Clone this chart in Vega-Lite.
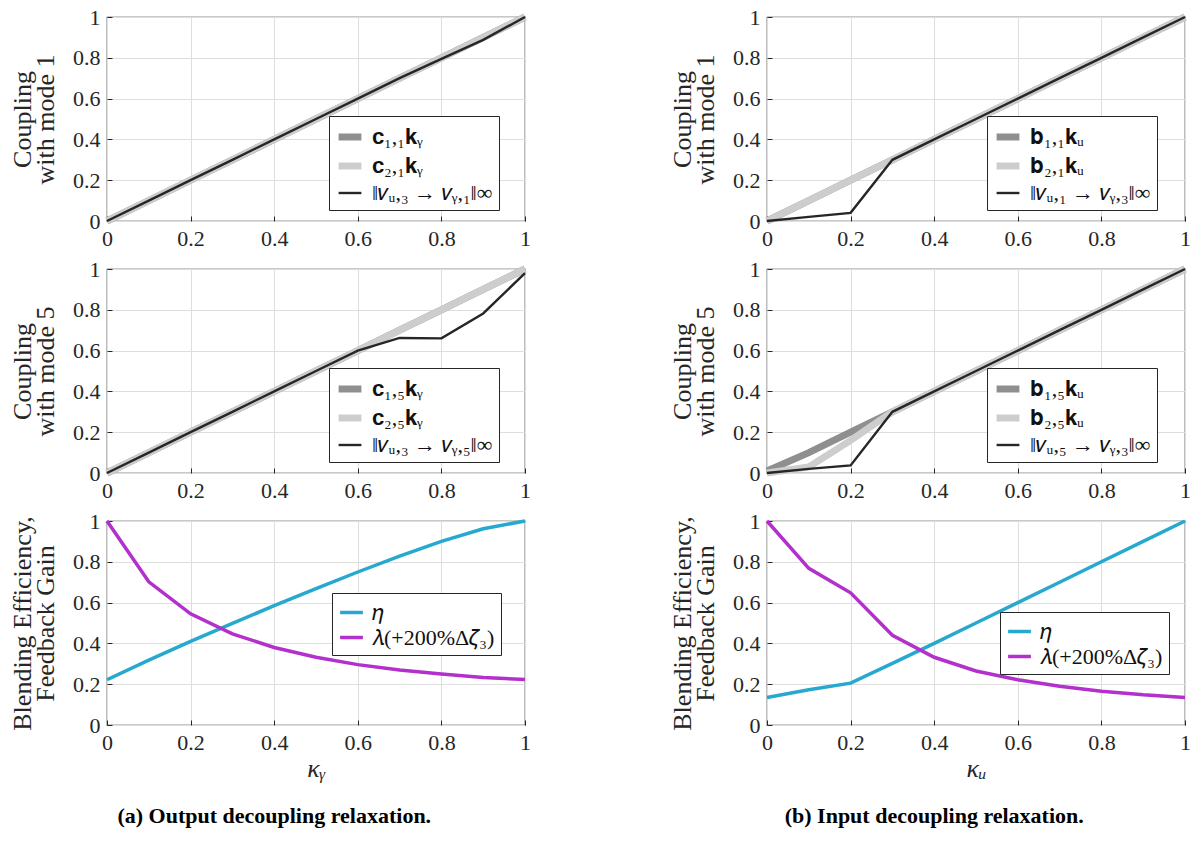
{
  "$schema": "https://vega.github.io/schema/vega-lite/v6.json",
  "padding": {"left": 8, "top": 2, "right": 5, "bottom": 5},
  "background": "white",
  "datasets": {
    "tl": [
      {"x": 0, "v": 0, "k": 1, "s": "𝐜₁,₁𝐤ᵧ"}, {"x": 0.1, "v": 0.1, "k": 1, "s": "𝐜₁,₁𝐤ᵧ"}, {"x": 0.2, "v": 0.2, "k": 1, "s": "𝐜₁,₁𝐤ᵧ"}, {"x": 0.3, "v": 0.3, "k": 1, "s": "𝐜₁,₁𝐤ᵧ"}, {"x": 0.4, "v": 0.4, "k": 1, "s": "𝐜₁,₁𝐤ᵧ"}, {"x": 0.5, "v": 0.5, "k": 1, "s": "𝐜₁,₁𝐤ᵧ"}, {"x": 0.6, "v": 0.6, "k": 1, "s": "𝐜₁,₁𝐤ᵧ"}, {"x": 0.7, "v": 0.7, "k": 1, "s": "𝐜₁,₁𝐤ᵧ"}, {"x": 0.8, "v": 0.8, "k": 1, "s": "𝐜₁,₁𝐤ᵧ"}, {"x": 0.9, "v": 0.9, "k": 1, "s": "𝐜₁,₁𝐤ᵧ"}, {"x": 1, "v": 1, "k": 1, "s": "𝐜₁,₁𝐤ᵧ"},
      {"x": 0, "v": 0, "k": 2, "s": "𝐜₂,₁𝐤ᵧ"}, {"x": 0.1, "v": 0.1, "k": 2, "s": "𝐜₂,₁𝐤ᵧ"}, {"x": 0.2, "v": 0.2, "k": 2, "s": "𝐜₂,₁𝐤ᵧ"}, {"x": 0.3, "v": 0.3, "k": 2, "s": "𝐜₂,₁𝐤ᵧ"}, {"x": 0.4, "v": 0.4, "k": 2, "s": "𝐜₂,₁𝐤ᵧ"}, {"x": 0.5, "v": 0.5, "k": 2, "s": "𝐜₂,₁𝐤ᵧ"}, {"x": 0.6, "v": 0.6, "k": 2, "s": "𝐜₂,₁𝐤ᵧ"}, {"x": 0.7, "v": 0.7, "k": 2, "s": "𝐜₂,₁𝐤ᵧ"}, {"x": 0.8, "v": 0.8, "k": 2, "s": "𝐜₂,₁𝐤ᵧ"}, {"x": 0.9, "v": 0.9, "k": 2, "s": "𝐜₂,₁𝐤ᵧ"}, {"x": 1, "v": 1, "k": 2, "s": "𝐜₂,₁𝐤ᵧ"},
      {"x": 0, "v": 0, "k": 3, "s": "‖𝑣ᵤ,₃ → 𝑣ᵧ,₁‖∞"}, {"x": 0.1, "v": 0.1, "k": 3, "s": "‖𝑣ᵤ,₃ → 𝑣ᵧ,₁‖∞"}, {"x": 0.2, "v": 0.2, "k": 3, "s": "‖𝑣ᵤ,₃ → 𝑣ᵧ,₁‖∞"}, {"x": 0.3, "v": 0.3, "k": 3, "s": "‖𝑣ᵤ,₃ → 𝑣ᵧ,₁‖∞"}, {"x": 0.4, "v": 0.4, "k": 3, "s": "‖𝑣ᵤ,₃ → 𝑣ᵧ,₁‖∞"}, {"x": 0.5, "v": 0.5, "k": 3, "s": "‖𝑣ᵤ,₃ → 𝑣ᵧ,₁‖∞"}, {"x": 0.6, "v": 0.6, "k": 3, "s": "‖𝑣ᵤ,₃ → 𝑣ᵧ,₁‖∞"}, {"x": 0.7, "v": 0.7, "k": 3, "s": "‖𝑣ᵤ,₃ → 𝑣ᵧ,₁‖∞"}, {"x": 0.8, "v": 0.795, "k": 3, "s": "‖𝑣ᵤ,₃ → 𝑣ᵧ,₁‖∞"}, {"x": 0.9, "v": 0.888, "k": 3, "s": "‖𝑣ᵤ,₃ → 𝑣ᵧ,₁‖∞"}, {"x": 1, "v": 1, "k": 3, "s": "‖𝑣ᵤ,₃ → 𝑣ᵧ,₁‖∞"}
    ],
    "ml": [
      {"x": 0, "v": 0, "k": 1, "s": "𝐜₁,₅𝐤ᵧ"}, {"x": 0.1, "v": 0.1, "k": 1, "s": "𝐜₁,₅𝐤ᵧ"}, {"x": 0.2, "v": 0.2, "k": 1, "s": "𝐜₁,₅𝐤ᵧ"}, {"x": 0.3, "v": 0.3, "k": 1, "s": "𝐜₁,₅𝐤ᵧ"}, {"x": 0.4, "v": 0.4, "k": 1, "s": "𝐜₁,₅𝐤ᵧ"}, {"x": 0.5, "v": 0.5, "k": 1, "s": "𝐜₁,₅𝐤ᵧ"}, {"x": 0.6, "v": 0.6, "k": 1, "s": "𝐜₁,₅𝐤ᵧ"}, {"x": 0.7, "v": 0.7, "k": 1, "s": "𝐜₁,₅𝐤ᵧ"}, {"x": 0.8, "v": 0.8, "k": 1, "s": "𝐜₁,₅𝐤ᵧ"}, {"x": 0.9, "v": 0.9, "k": 1, "s": "𝐜₁,₅𝐤ᵧ"}, {"x": 1, "v": 1, "k": 1, "s": "𝐜₁,₅𝐤ᵧ"},
      {"x": 0, "v": 0, "k": 2, "s": "𝐜₂,₅𝐤ᵧ"}, {"x": 0.1, "v": 0.1, "k": 2, "s": "𝐜₂,₅𝐤ᵧ"}, {"x": 0.2, "v": 0.2, "k": 2, "s": "𝐜₂,₅𝐤ᵧ"}, {"x": 0.3, "v": 0.3, "k": 2, "s": "𝐜₂,₅𝐤ᵧ"}, {"x": 0.4, "v": 0.4, "k": 2, "s": "𝐜₂,₅𝐤ᵧ"}, {"x": 0.5, "v": 0.5, "k": 2, "s": "𝐜₂,₅𝐤ᵧ"}, {"x": 0.6, "v": 0.6, "k": 2, "s": "𝐜₂,₅𝐤ᵧ"}, {"x": 0.7, "v": 0.7, "k": 2, "s": "𝐜₂,₅𝐤ᵧ"}, {"x": 0.8, "v": 0.8, "k": 2, "s": "𝐜₂,₅𝐤ᵧ"}, {"x": 0.9, "v": 0.9, "k": 2, "s": "𝐜₂,₅𝐤ᵧ"}, {"x": 1, "v": 1, "k": 2, "s": "𝐜₂,₅𝐤ᵧ"},
      {"x": 0, "v": 0, "k": 3, "s": "‖𝑣ᵤ,₃ → 𝑣ᵧ,₅‖∞"}, {"x": 0.1, "v": 0.1, "k": 3, "s": "‖𝑣ᵤ,₃ → 𝑣ᵧ,₅‖∞"}, {"x": 0.2, "v": 0.2, "k": 3, "s": "‖𝑣ᵤ,₃ → 𝑣ᵧ,₅‖∞"}, {"x": 0.3, "v": 0.3, "k": 3, "s": "‖𝑣ᵤ,₃ → 𝑣ᵧ,₅‖∞"}, {"x": 0.4, "v": 0.4, "k": 3, "s": "‖𝑣ᵤ,₃ → 𝑣ᵧ,₅‖∞"}, {"x": 0.5, "v": 0.5, "k": 3, "s": "‖𝑣ᵤ,₃ → 𝑣ᵧ,₅‖∞"}, {"x": 0.6, "v": 0.6, "k": 3, "s": "‖𝑣ᵤ,₃ → 𝑣ᵧ,₅‖∞"}, {"x": 0.7, "v": 0.662, "k": 3, "s": "‖𝑣ᵤ,₃ → 𝑣ᵧ,₅‖∞"}, {"x": 0.8, "v": 0.66, "k": 3, "s": "‖𝑣ᵤ,₃ → 𝑣ᵧ,₅‖∞"}, {"x": 0.9, "v": 0.782, "k": 3, "s": "‖𝑣ᵤ,₃ → 𝑣ᵧ,₅‖∞"}, {"x": 1, "v": 0.98, "k": 3, "s": "‖𝑣ᵤ,₃ → 𝑣ᵧ,₅‖∞"}
    ],
    "tr": [
      {"x": 0, "v": 0, "k": 1, "s": "𝐛₁,₁𝐤ᵤ"}, {"x": 0.1, "v": 0.1, "k": 1, "s": "𝐛₁,₁𝐤ᵤ"}, {"x": 0.2, "v": 0.2, "k": 1, "s": "𝐛₁,₁𝐤ᵤ"}, {"x": 0.3, "v": 0.3, "k": 1, "s": "𝐛₁,₁𝐤ᵤ"}, {"x": 0.4, "v": 0.4, "k": 1, "s": "𝐛₁,₁𝐤ᵤ"}, {"x": 0.5, "v": 0.5, "k": 1, "s": "𝐛₁,₁𝐤ᵤ"}, {"x": 0.6, "v": 0.6, "k": 1, "s": "𝐛₁,₁𝐤ᵤ"}, {"x": 0.7, "v": 0.7, "k": 1, "s": "𝐛₁,₁𝐤ᵤ"}, {"x": 0.8, "v": 0.8, "k": 1, "s": "𝐛₁,₁𝐤ᵤ"}, {"x": 0.9, "v": 0.9, "k": 1, "s": "𝐛₁,₁𝐤ᵤ"}, {"x": 1, "v": 1, "k": 1, "s": "𝐛₁,₁𝐤ᵤ"},
      {"x": 0, "v": 0, "k": 2, "s": "𝐛₂,₁𝐤ᵤ"}, {"x": 0.1, "v": 0.1, "k": 2, "s": "𝐛₂,₁𝐤ᵤ"}, {"x": 0.2, "v": 0.2, "k": 2, "s": "𝐛₂,₁𝐤ᵤ"}, {"x": 0.3, "v": 0.3, "k": 2, "s": "𝐛₂,₁𝐤ᵤ"}, {"x": 0.4, "v": 0.4, "k": 2, "s": "𝐛₂,₁𝐤ᵤ"}, {"x": 0.5, "v": 0.5, "k": 2, "s": "𝐛₂,₁𝐤ᵤ"}, {"x": 0.6, "v": 0.6, "k": 2, "s": "𝐛₂,₁𝐤ᵤ"}, {"x": 0.7, "v": 0.7, "k": 2, "s": "𝐛₂,₁𝐤ᵤ"}, {"x": 0.8, "v": 0.8, "k": 2, "s": "𝐛₂,₁𝐤ᵤ"}, {"x": 0.9, "v": 0.9, "k": 2, "s": "𝐛₂,₁𝐤ᵤ"}, {"x": 1, "v": 1, "k": 2, "s": "𝐛₂,₁𝐤ᵤ"},
      {"x": 0, "v": 0, "k": 3, "s": "‖𝑣ᵤ,₁ → 𝑣ᵧ,₃‖∞"}, {"x": 0.1, "v": 0.02, "k": 3, "s": "‖𝑣ᵤ,₁ → 𝑣ᵧ,₃‖∞"}, {"x": 0.2, "v": 0.04, "k": 3, "s": "‖𝑣ᵤ,₁ → 𝑣ᵧ,₃‖∞"}, {"x": 0.3, "v": 0.3, "k": 3, "s": "‖𝑣ᵤ,₁ → 𝑣ᵧ,₃‖∞"}, {"x": 0.4, "v": 0.4, "k": 3, "s": "‖𝑣ᵤ,₁ → 𝑣ᵧ,₃‖∞"}, {"x": 0.5, "v": 0.5, "k": 3, "s": "‖𝑣ᵤ,₁ → 𝑣ᵧ,₃‖∞"}, {"x": 0.6, "v": 0.6, "k": 3, "s": "‖𝑣ᵤ,₁ → 𝑣ᵧ,₃‖∞"}, {"x": 0.7, "v": 0.7, "k": 3, "s": "‖𝑣ᵤ,₁ → 𝑣ᵧ,₃‖∞"}, {"x": 0.8, "v": 0.8, "k": 3, "s": "‖𝑣ᵤ,₁ → 𝑣ᵧ,₃‖∞"}, {"x": 0.9, "v": 0.9, "k": 3, "s": "‖𝑣ᵤ,₁ → 𝑣ᵧ,₃‖∞"}, {"x": 1, "v": 1, "k": 3, "s": "‖𝑣ᵤ,₁ → 𝑣ᵧ,₃‖∞"}
    ],
    "mr": [
      {"x": 0, "v": 0.01, "k": 1, "s": "𝐛₁,₅𝐤ᵤ"}, {"x": 0.1, "v": 0.1, "k": 1, "s": "𝐛₁,₅𝐤ᵤ"}, {"x": 0.2, "v": 0.2, "k": 1, "s": "𝐛₁,₅𝐤ᵤ"}, {"x": 0.3, "v": 0.3, "k": 1, "s": "𝐛₁,₅𝐤ᵤ"}, {"x": 0.4, "v": 0.4, "k": 1, "s": "𝐛₁,₅𝐤ᵤ"}, {"x": 0.5, "v": 0.5, "k": 1, "s": "𝐛₁,₅𝐤ᵤ"}, {"x": 0.6, "v": 0.6, "k": 1, "s": "𝐛₁,₅𝐤ᵤ"}, {"x": 0.7, "v": 0.7, "k": 1, "s": "𝐛₁,₅𝐤ᵤ"}, {"x": 0.8, "v": 0.8, "k": 1, "s": "𝐛₁,₅𝐤ᵤ"}, {"x": 0.9, "v": 0.9, "k": 1, "s": "𝐛₁,₅𝐤ᵤ"}, {"x": 1, "v": 1, "k": 1, "s": "𝐛₁,₅𝐤ᵤ"},
      {"x": 0, "v": 0, "k": 2, "s": "𝐛₂,₅𝐤ᵤ"}, {"x": 0.1, "v": 0.03, "k": 2, "s": "𝐛₂,₅𝐤ᵤ"}, {"x": 0.2, "v": 0.16, "k": 2, "s": "𝐛₂,₅𝐤ᵤ"}, {"x": 0.3, "v": 0.3, "k": 2, "s": "𝐛₂,₅𝐤ᵤ"}, {"x": 0.4, "v": 0.4, "k": 2, "s": "𝐛₂,₅𝐤ᵤ"}, {"x": 0.5, "v": 0.5, "k": 2, "s": "𝐛₂,₅𝐤ᵤ"}, {"x": 0.6, "v": 0.6, "k": 2, "s": "𝐛₂,₅𝐤ᵤ"}, {"x": 0.7, "v": 0.7, "k": 2, "s": "𝐛₂,₅𝐤ᵤ"}, {"x": 0.8, "v": 0.8, "k": 2, "s": "𝐛₂,₅𝐤ᵤ"}, {"x": 0.9, "v": 0.9, "k": 2, "s": "𝐛₂,₅𝐤ᵤ"}, {"x": 1, "v": 1, "k": 2, "s": "𝐛₂,₅𝐤ᵤ"},
      {"x": 0, "v": 0, "k": 3, "s": "‖𝑣ᵤ,₅ → 𝑣ᵧ,₃‖∞"}, {"x": 0.1, "v": 0.02, "k": 3, "s": "‖𝑣ᵤ,₅ → 𝑣ᵧ,₃‖∞"}, {"x": 0.2, "v": 0.037, "k": 3, "s": "‖𝑣ᵤ,₅ → 𝑣ᵧ,₃‖∞"}, {"x": 0.3, "v": 0.3, "k": 3, "s": "‖𝑣ᵤ,₅ → 𝑣ᵧ,₃‖∞"}, {"x": 0.4, "v": 0.4, "k": 3, "s": "‖𝑣ᵤ,₅ → 𝑣ᵧ,₃‖∞"}, {"x": 0.5, "v": 0.5, "k": 3, "s": "‖𝑣ᵤ,₅ → 𝑣ᵧ,₃‖∞"}, {"x": 0.6, "v": 0.6, "k": 3, "s": "‖𝑣ᵤ,₅ → 𝑣ᵧ,₃‖∞"}, {"x": 0.7, "v": 0.7, "k": 3, "s": "‖𝑣ᵤ,₅ → 𝑣ᵧ,₃‖∞"}, {"x": 0.8, "v": 0.8, "k": 3, "s": "‖𝑣ᵤ,₅ → 𝑣ᵧ,₃‖∞"}, {"x": 0.9, "v": 0.9, "k": 3, "s": "‖𝑣ᵤ,₅ → 𝑣ᵧ,₃‖∞"}, {"x": 1, "v": 1, "k": 3, "s": "‖𝑣ᵤ,₅ → 𝑣ᵧ,₃‖∞"}
    ],
    "bl": [
      {"x": 0, "v": 0.222, "s": "𝜂"}, {"x": 0.1, "v": 0.318, "s": "𝜂"}, {"x": 0.2, "v": 0.41, "s": "𝜂"}, {"x": 0.3, "v": 0.498, "s": "𝜂"}, {"x": 0.4, "v": 0.585, "s": "𝜂"}, {"x": 0.5, "v": 0.668, "s": "𝜂"}, {"x": 0.6, "v": 0.75, "s": "𝜂"}, {"x": 0.7, "v": 0.828, "s": "𝜂"}, {"x": 0.8, "v": 0.9, "s": "𝜂"}, {"x": 0.9, "v": 0.962, "s": "𝜂"}, {"x": 1, "v": 1, "s": "𝜂"},
      {"x": 0, "v": 1, "s": "𝜆(+200%Δ𝜁₃)"}, {"x": 0.1, "v": 0.702, "s": "𝜆(+200%Δ𝜁₃)"}, {"x": 0.2, "v": 0.545, "s": "𝜆(+200%Δ𝜁₃)"}, {"x": 0.3, "v": 0.447, "s": "𝜆(+200%Δ𝜁₃)"}, {"x": 0.4, "v": 0.38, "s": "𝜆(+200%Δ𝜁₃)"}, {"x": 0.5, "v": 0.332, "s": "𝜆(+200%Δ𝜁₃)"}, {"x": 0.6, "v": 0.296, "s": "𝜆(+200%Δ𝜁₃)"}, {"x": 0.7, "v": 0.27, "s": "𝜆(+200%Δ𝜁₃)"}, {"x": 0.8, "v": 0.25, "s": "𝜆(+200%Δ𝜁₃)"}, {"x": 0.9, "v": 0.233, "s": "𝜆(+200%Δ𝜁₃)"}, {"x": 1, "v": 0.223, "s": "𝜆(+200%Δ𝜁₃)"}
    ],
    "br": [
      {"x": 0, "v": 0.135, "s": "𝜂"}, {"x": 0.1, "v": 0.173, "s": "𝜂"}, {"x": 0.2, "v": 0.205, "s": "𝜂"}, {"x": 0.3, "v": 0.302, "s": "𝜂"}, {"x": 0.4, "v": 0.4, "s": "𝜂"}, {"x": 0.5, "v": 0.5, "s": "𝜂"}, {"x": 0.6, "v": 0.6, "s": "𝜂"}, {"x": 0.7, "v": 0.7, "s": "𝜂"}, {"x": 0.8, "v": 0.8, "s": "𝜂"}, {"x": 0.9, "v": 0.9, "s": "𝜂"}, {"x": 1, "v": 1, "s": "𝜂"},
      {"x": 0, "v": 1, "s": "𝜆(+200%Δ𝜁₃)"}, {"x": 0.1, "v": 0.768, "s": "𝜆(+200%Δ𝜁₃)"}, {"x": 0.2, "v": 0.648, "s": "𝜆(+200%Δ𝜁₃)"}, {"x": 0.3, "v": 0.44, "s": "𝜆(+200%Δ𝜁₃)"}, {"x": 0.4, "v": 0.332, "s": "𝜆(+200%Δ𝜁₃)"}, {"x": 0.5, "v": 0.265, "s": "𝜆(+200%Δ𝜁₃)"}, {"x": 0.6, "v": 0.222, "s": "𝜆(+200%Δ𝜁₃)"}, {"x": 0.7, "v": 0.19, "s": "𝜆(+200%Δ𝜁₃)"}, {"x": 0.8, "v": 0.166, "s": "𝜆(+200%Δ𝜁₃)"}, {"x": 0.9, "v": 0.148, "s": "𝜆(+200%Δ𝜁₃)"}, {"x": 1, "v": 0.135, "s": "𝜆(+200%Δ𝜁₃)"}
    ]
  },
  "hconcat": [
    {
      "title": {"text": "(a) Output decoupling relaxation.", "orient": "bottom", "anchor": "middle", "font": "Liberation Serif", "fontSize": 22, "fontWeight": "bold", "color": "black", "offset": 24},
      "bounds": "flush",
      "spacing": 48,
      "resolve": {"scale": {"color": "independent", "strokeWidth": "independent"}, "legend": {"color": "independent", "strokeWidth": "independent"}},
      "vconcat": [
        {
          "width": 418, "height": 204,
          "data": {"name": "tl"},
          "encoding": {
            "x": {"field": "x", "type": "quantitative", "scale": {"domain": [0, 1], "nice": false}, "axis": {"title": null, "values": [0, 0.2, 0.4, 0.6, 0.8, 1], "format": "~g"}},
            "y": {"field": "v", "type": "quantitative", "scale": {"domain": [0, 1], "nice": false}, "axis": {"title": ["Coupling", "with mode 1"], "values": [0, 0.2, 0.4, 0.6, 0.8, 1], "format": "~g"}},
            "color": {"field": "s", "type": "nominal", "scale": {"domain": ["𝐜₁,₁𝐤ᵧ", "𝐜₂,₁𝐤ᵧ", "‖𝑣ᵤ,₃ → 𝑣ᵧ,₁‖∞"], "range": ["#8f8f8f", "#cdcdcd", "#262626"]}, "legend": {"title": null, "orient": "none", "legendX": 222, "legendY": 99}},
            "strokeWidth": {"field": "s", "type": "nominal", "scale": {"type": "ordinal", "domain": ["𝐜₁,₁𝐤ᵧ", "𝐜₂,₁𝐤ᵧ", "‖𝑣ᵤ,₃ → 𝑣ᵧ,₁‖∞"], "range": [7, 7, 2.4]}, "legend": {"title": null, "orient": "none", "legendX": 222, "legendY": 99}}
          },
          "layer": [
            {"transform": [{"filter": "datum.k == 1"}], "mark": {"type": "line"}},
            {"transform": [{"filter": "datum.k == 2"}], "mark": {"type": "line"}},
            {"transform": [{"filter": "datum.k == 3"}], "mark": {"type": "line"}}
          ]
        },
        {
          "width": 418, "height": 204,
          "data": {"name": "ml"},
          "encoding": {
            "x": {"field": "x", "type": "quantitative", "scale": {"domain": [0, 1], "nice": false}, "axis": {"title": null, "values": [0, 0.2, 0.4, 0.6, 0.8, 1], "format": "~g"}},
            "y": {"field": "v", "type": "quantitative", "scale": {"domain": [0, 1], "nice": false}, "axis": {"title": ["Coupling", "with mode 5"], "values": [0, 0.2, 0.4, 0.6, 0.8, 1], "format": "~g"}},
            "color": {"field": "s", "type": "nominal", "scale": {"domain": ["𝐜₁,₅𝐤ᵧ", "𝐜₂,₅𝐤ᵧ", "‖𝑣ᵤ,₃ → 𝑣ᵧ,₅‖∞"], "range": ["#8f8f8f", "#cdcdcd", "#262626"]}, "legend": {"title": null, "orient": "none", "legendX": 222, "legendY": 99}},
            "strokeWidth": {"field": "s", "type": "nominal", "scale": {"type": "ordinal", "domain": ["𝐜₁,₅𝐤ᵧ", "𝐜₂,₅𝐤ᵧ", "‖𝑣ᵤ,₃ → 𝑣ᵧ,₅‖∞"], "range": [7, 7, 2.4]}, "legend": {"title": null, "orient": "none", "legendX": 222, "legendY": 99}}
          },
          "layer": [
            {"transform": [{"filter": "datum.k == 1"}], "mark": {"type": "line"}},
            {"transform": [{"filter": "datum.k == 2"}], "mark": {"type": "line"}},
            {"transform": [{"filter": "datum.k == 3"}], "mark": {"type": "line"}}
          ]
        },
        {
          "width": 418, "height": 204,
          "data": {"name": "bl"},
          "mark": {"type": "line", "strokeWidth": 3.5},
          "encoding": {
            "x": {"field": "x", "type": "quantitative", "scale": {"domain": [0, 1], "nice": false}, "axis": {"title": "κᵧ", "titleFontStyle": "italic", "values": [0, 0.2, 0.4, 0.6, 0.8, 1], "format": "~g"}},
            "y": {"field": "v", "type": "quantitative", "scale": {"domain": [0, 1], "nice": false}, "axis": {"title": ["Blending Efficiency,", "Feedback Gain"], "values": [0, 0.2, 0.4, 0.6, 0.8, 1], "format": "~g"}},
            "color": {"field": "s", "type": "nominal", "scale": {"domain": ["𝜂", "𝜆(+200%Δ𝜁₃)"], "range": ["#27A9CF", "#B330CC"]}, "legend": {"title": null, "orient": "none", "legendX": 225, "legendY": 72, "symbolStrokeWidth": 3.5}}
          }
        }
      ]
    },
    {
      "title": {"text": "(b) Input decoupling relaxation.", "orient": "bottom", "anchor": "middle", "font": "Liberation Serif", "fontSize": 22, "fontWeight": "bold", "color": "black", "offset": 24},
      "bounds": "flush",
      "spacing": 48,
      "resolve": {"scale": {"color": "independent", "strokeWidth": "independent"}, "legend": {"color": "independent", "strokeWidth": "independent"}},
      "vconcat": [
        {
          "width": 418, "height": 204,
          "data": {"name": "tr"},
          "encoding": {
            "x": {"field": "x", "type": "quantitative", "scale": {"domain": [0, 1], "nice": false}, "axis": {"title": null, "values": [0, 0.2, 0.4, 0.6, 0.8, 1], "format": "~g"}},
            "y": {"field": "v", "type": "quantitative", "scale": {"domain": [0, 1], "nice": false}, "axis": {"title": ["Coupling", "with mode 1"], "values": [0, 0.2, 0.4, 0.6, 0.8, 1], "format": "~g"}},
            "color": {"field": "s", "type": "nominal", "scale": {"domain": ["𝐛₁,₁𝐤ᵤ", "𝐛₂,₁𝐤ᵤ", "‖𝑣ᵤ,₁ → 𝑣ᵧ,₃‖∞"], "range": ["#8f8f8f", "#cdcdcd", "#262626"]}, "legend": {"title": null, "orient": "none", "legendX": 220, "legendY": 99}},
            "strokeWidth": {"field": "s", "type": "nominal", "scale": {"type": "ordinal", "domain": ["𝐛₁,₁𝐤ᵤ", "𝐛₂,₁𝐤ᵤ", "‖𝑣ᵤ,₁ → 𝑣ᵧ,₃‖∞"], "range": [7, 7, 2.4]}, "legend": {"title": null, "orient": "none", "legendX": 220, "legendY": 99}}
          },
          "layer": [
            {"transform": [{"filter": "datum.k == 1"}], "mark": {"type": "line"}},
            {"transform": [{"filter": "datum.k == 2"}], "mark": {"type": "line"}},
            {"transform": [{"filter": "datum.k == 3"}], "mark": {"type": "line"}}
          ]
        },
        {
          "width": 418, "height": 204,
          "data": {"name": "mr"},
          "encoding": {
            "x": {"field": "x", "type": "quantitative", "scale": {"domain": [0, 1], "nice": false}, "axis": {"title": null, "values": [0, 0.2, 0.4, 0.6, 0.8, 1], "format": "~g"}},
            "y": {"field": "v", "type": "quantitative", "scale": {"domain": [0, 1], "nice": false}, "axis": {"title": ["Coupling", "with mode 5"], "values": [0, 0.2, 0.4, 0.6, 0.8, 1], "format": "~g"}},
            "color": {"field": "s", "type": "nominal", "scale": {"domain": ["𝐛₁,₅𝐤ᵤ", "𝐛₂,₅𝐤ᵤ", "‖𝑣ᵤ,₅ → 𝑣ᵧ,₃‖∞"], "range": ["#8f8f8f", "#cdcdcd", "#262626"]}, "legend": {"title": null, "orient": "none", "legendX": 220, "legendY": 99}},
            "strokeWidth": {"field": "s", "type": "nominal", "scale": {"type": "ordinal", "domain": ["𝐛₁,₅𝐤ᵤ", "𝐛₂,₅𝐤ᵤ", "‖𝑣ᵤ,₅ → 𝑣ᵧ,₃‖∞"], "range": [7, 7, 2.4]}, "legend": {"title": null, "orient": "none", "legendX": 220, "legendY": 99}}
          },
          "layer": [
            {"transform": [{"filter": "datum.k == 1"}], "mark": {"type": "line"}},
            {"transform": [{"filter": "datum.k == 2"}], "mark": {"type": "line"}},
            {"transform": [{"filter": "datum.k == 3"}], "mark": {"type": "line"}}
          ]
        },
        {
          "width": 418, "height": 204,
          "data": {"name": "br"},
          "mark": {"type": "line", "strokeWidth": 3.5},
          "encoding": {
            "x": {"field": "x", "type": "quantitative", "scale": {"domain": [0, 1], "nice": false}, "axis": {"title": "κᵤ", "titleFontStyle": "italic", "values": [0, 0.2, 0.4, 0.6, 0.8, 1], "format": "~g"}},
            "y": {"field": "v", "type": "quantitative", "scale": {"domain": [0, 1], "nice": false}, "axis": {"title": ["Blending Efficiency,", "Feedback Gain"], "values": [0, 0.2, 0.4, 0.6, 0.8, 1], "format": "~g"}},
            "color": {"field": "s", "type": "nominal", "scale": {"domain": ["𝜂", "𝜆(+200%Δ𝜁₃)"], "range": ["#27A9CF", "#B330CC"]}, "legend": {"title": null, "orient": "none", "legendX": 233, "legendY": 91, "symbolStrokeWidth": 3.5}}
          }
        }
      ]
    }
  ],
  "spacing": 128,
  "resolve": {"scale": {"color": "independent", "strokeWidth": "independent"}, "legend": {"color": "independent", "strokeWidth": "independent"}},
  "config": {
    "font": "Liberation Serif",
    "view": {"stroke": "#262626", "strokeWidth": 1.2},
    "axis": {
      "labelFont": "Liberation Serif", "labelFontSize": 22, "labelColor": "#262626",
      "titleFont": "Liberation Serif", "titleFontSize": 26, "titleFontWeight": "normal", "titleColor": "#262626", "titleLineHeight": 23,
      "grid": true, "gridColor": "#dedede", "gridWidth": 1,
      "domain": false, "ticks": true, "tickColor": "#262626", "tickSize": -5, "labelPadding": 12, "titlePadding": 14, "labelFlush": false
    },
    "axisX": {"titlePadding": 2},
    "legend": {
      "symbolType": "stroke", "symbolSize": 520, "labelFont": "Liberation Serif", "labelFontSize": 22, "labelColor": "#111111",
      "strokeColor": "#262626", "fillColor": "white", "padding": 6, "rowPadding": -2, "labelLimit": 400, "labelOffset": 7
    }
  }
}
